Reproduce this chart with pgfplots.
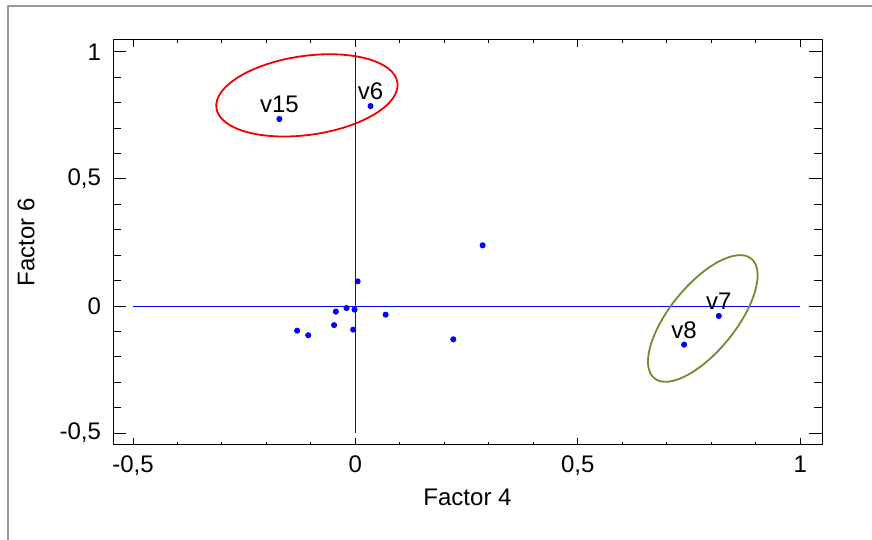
\documentclass[border=0pt]{standalone}
\usepackage{fontspec}
\setmainfont{Liberation Sans}
\usepackage{pgfplots}
\pgfplotsset{compat=1.18}

\definecolor{ptblue}{RGB}{0,0,255}
\definecolor{ellred}{RGB}{240,0,0}
\definecolor{ellgreen}{RGB}{110,140,50}

% factor loadings, Factor 4 vs Factor 6
\pgfplotstableread{
x      y
-0.171  0.736
 0.034  0.787
 0.817 -0.039
 0.739 -0.152
 0.286  0.239
 0.005  0.097
-0.044 -0.022
-0.020 -0.008
-0.002 -0.014
 0.068 -0.034
-0.048 -0.075
-0.005 -0.093
-0.131 -0.097
-0.106 -0.115
 0.220 -0.131
}\loadings

\begin{document}
\begin{tikzpicture}
\useasboundingbox (-56.5pt,-47.5pt) rectangle (379.5pt,222.5pt);
\draw[gray!80, line width=0.6pt] (-52.5pt,-47.5pt) -- (-52.5pt,219.5pt) -- (379.5pt,219.5pt);
\begin{axis}[
  at={(0,0)}, anchor=south west,
  scale only axis,
  width=354.5pt, height=202.5pt,
  xmin=-0.545, xmax=1.049,
  ymin=-0.547, ymax=1.047,
  axis line style={line width=0.5pt},
  tick align=inside,
  xtick={-0.5,0,0.5,1},
  xticklabels={{-0,5},0,{0,5},1},
  ytick={-0.5,0,0.5,1},
  yticklabels={{-0,5},0,{0,5},1},
  minor x tick num=4,
  minor y tick num=4,
  xtick style={black, line width=0.5pt, /pgfplots/major tick length=3.5pt, /pgfplots/minor tick length=1.6pt},
  ytick style={black, line width=0.5pt, /pgfplots/major tick length=6.5pt, /pgfplots/minor tick length=4pt},
  ticklabel style={font=\fontsize{12}{14}\selectfont},
  xticklabel style={yshift=-2pt},
  yticklabel style={xshift=-2.5pt},
  xlabel={Factor 4},
  ylabel={Factor 6},
  every axis x label/.style={at={(axis description cs:0.5,-0.13)}, anchor=center, font=\fontsize{12}{14}\selectfont},
  every axis y label/.style={at={(axis description cs:-0.1227,0.5)}, rotate=90, anchor=center, font=\fontsize{12}{14}\selectfont},
  clip=false,
  unbounded coords=jump,
]
% the two reference lines through the origin
\addplot[blue, line width=0.5pt] coordinates {(-0.5,0) (1,0) (nan,nan) (0,-0.5) (0,1)};
\addplot[only marks, mark=*, mark size=1.3pt, color=ptblue] table[x=x, y=y] {\loadings};

\draw[ellred, line width=0.9pt] (axis cs:-0.109,0.829) ellipse [x radius=45.7pt, y radius=19.75pt, rotate=8];
\draw[ellgreen, line width=0.9pt] (axis cs:0.781,-0.049) ellipse [x radius=38.5pt, y radius=16.5pt, rotate=51];

\begin{scope}[every node/.style={anchor=south, inner sep=0pt, font=\fontsize{12}{14}\selectfont}]
\node at ([yshift=3pt]axis cs:-0.171,0.736) {v15};
\node at ([yshift=3pt]axis cs:0.034,0.787) {v6};
\node at ([yshift=3pt]axis cs:0.817,-0.039) {v7};
\node at ([yshift=3pt]axis cs:0.739,-0.152) {v8};
\end{scope}
\end{axis}
\end{tikzpicture}
\end{document}
